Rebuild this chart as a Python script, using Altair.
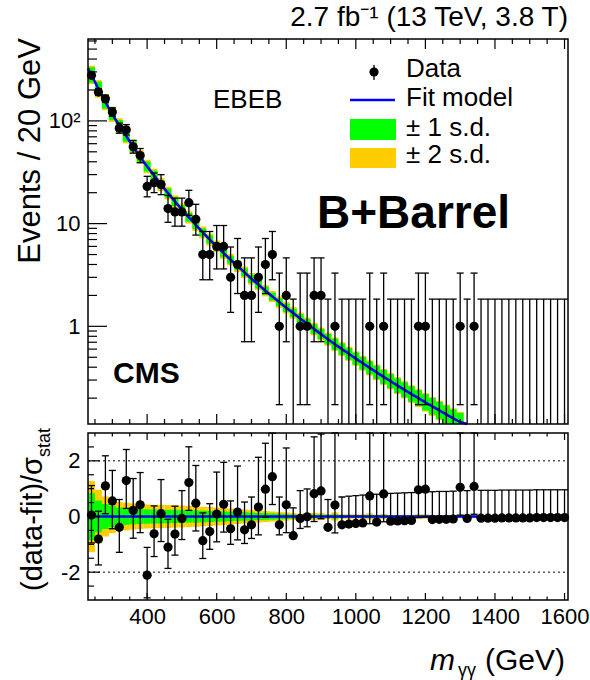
import math
import pandas as pd
import altair as alt

FONT = "Liberation Sans"

# ---------------- data ----------------
bin_centers = list(range(240, 1601, 20))  # 69 bins of 20 GeV
counts = [278, 191, 164, 122, 85, 82, 56, 46,
          23, 25, 24, 14, 13, 13, 16, 11,
          5, 5, 6, 6, 3, 4, 2, 2,
          3, 4, 5, 1, 2, 0, 1, 1,
          2, 2, 0, 1, 0, 0, 0, 0,
          1, 0, 1, 0, 0, 0, 0, 1,
          1, 0, 0, 0, 0, 1, 0, 1] + [0] * 13
residuals = [0.05, -0.81, 1.10, 0.56, -0.39, 1.29, 0.22, 0.42,
             -2.11, -0.62, 0.10, -1.10, -0.63, -0.07, 1.22, 0.48,
             -0.87, -0.54, 0.09, 0.44, -0.44, 0.16, -0.48, -0.30,
             0.34, 0.98, 1.43, -0.30, 0.42, -0.69, -0.07, -0.01,
             0.82, 0.92, -0.39, 0.41, -0.30, -0.27, -0.25, -0.23,
             0.74, -0.20, 0.81, -0.17, -0.16, -0.15, -0.14, 0.96,
             0.98, -0.11, -0.10, -0.10, -0.09, 1.05, -0.07, 1.08,
             -0.06, -0.06, -0.06, -0.05, -0.05, -0.05, -0.05, -0.05,
             -0.04, -0.04, -0.04, -0.04, -0.04]
fit_mass = [230] + list(range(240, 1321, 20))
fit_events = [325,
              280, 205, 152, 116, 90, 71, 56, 44.5,
              36, 29.5, 24, 19.8, 16.4, 13.7, 11.5, 9.7,
              8.2, 7.0, 6.0, 5.15, 4.45, 3.85, 3.35, 2.9,
              2.55, 2.22, 1.95, 1.72, 1.52, 1.35, 1.19, 1.06,
              0.94, 0.84, 0.75, 0.67, 0.60, 0.54, 0.485, 0.437,
              0.394, 0.356, 0.322, 0.292, 0.265, 0.241, 0.219, 0.2,
              0.182, 0.166, 0.152, 0.139, 0.127, 0.117, 0.107]
band_mass = list(range(240, 1301, 20))
# half heights of the band boxes in the upper panel (decades)
top_sd1 = [0.075, 0.070, 0.062, 0.058, 0.055, 0.053, 0.052, 0.050,
           0.048, 0.046, 0.045, 0.044, 0.043, 0.042, 0.042, 0.041,
           0.040, 0.040, 0.039, 0.039, 0.038, 0.038, 0.038, 0.038,
           0.038, 0.038, 0.038, 0.039, 0.040, 0.041, 0.043, 0.045,
           0.047, 0.049, 0.051, 0.053, 0.055, 0.057, 0.059, 0.061,
           0.063, 0.065, 0.067, 0.069, 0.071, 0.073, 0.075, 0.077,
           0.079, 0.081, 0.083, 0.085, 0.087, 0.089]
top_sd2 = [0.090, 0.085, 0.078, 0.075, 0.072, 0.070, 0.069, 0.068,
           0.066, 0.064, 0.063, 0.062, 0.061, 0.060, 0.060, 0.059,
           0.058, 0.058, 0.057, 0.057, 0.056, 0.056, 0.056, 0.056,
           0.055, 0.055, 0.055, 0.056, 0.056, 0.057, 0.058, 0.060,
           0.061, 0.063, 0.064, 0.066, 0.067, 0.069, 0.070, 0.072,
           0.074, 0.076, 0.078, 0.080, 0.082, 0.084, 0.086, 0.088,
           0.090, 0.092, 0.094, 0.096, 0.098, 0.100]
# band half widths in the ratio panel
res_sd1 = [0.84, 0.57, 0.45, 0.38, 0.32, 0.30, 0.28, 0.27,
           0.26, 0.25, 0.25, 0.24, 0.24, 0.23, 0.22, 0.22,
           0.21, 0.20, 0.19, 0.18, 0.17, 0.16, 0.15, 0.14,
           0.13, 0.12, 0.11, 0.10, 0.09, 0.07, 0.06, 0.06,
           0.07, 0.07, 0.05, 0.08, 0.05, 0.05, 0.05, 0.05,
           0.06, 0.04, 0.05, 0.04, 0.04, 0.04, 0.04, 0.05,
           0.05, 0.03, 0.03, 0.03, 0.03, 0.04, 0.02, 0.04] + [0.015] * 13
res_sd2 = [1.28, 0.96, 0.72, 0.60, 0.52, 0.50, 0.47, 0.45,
           0.43, 0.42, 0.42, 0.41, 0.40, 0.39, 0.38, 0.37,
           0.35, 0.34, 0.32, 0.31, 0.29, 0.27, 0.25, 0.23,
           0.22, 0.20, 0.18, 0.16, 0.15, 0.12, 0.10, 0.10,
           0.13, 0.12, 0.09, 0.15, 0.08, 0.08, 0.08, 0.08,
           0.11, 0.07, 0.09, 0.06, 0.06, 0.06, 0.06, 0.08,
           0.08, 0.05, 0.05, 0.05, 0.05, 0.06, 0.03, 0.06] + [0.025] * 13

x_tick_labels = [400, 600, 800, 1000, 1200, 1400, 1600]
x_minor_ticks = list(range(250, 1601, 50))
y_top_labels = [1, 10, 100]
y_top_minor = [0.2, 0.3, 0.4, 0.5, 0.6, 0.7, 0.8, 0.9,
               2, 3, 4, 5, 6, 7, 8, 9,
               20, 30, 40, 50, 60, 70, 80, 90,
               200, 300, 400, 500, 600]
y_bot_labels = [-2, 0, 2]
y_bot_minor = [-2.5, -1.5, -1, -0.5, 0.5, 1, 1.5, 2.5]
dotted_levels = [-2, 2]

X_DOM = [230, 1610]
Y_TOP_DOM = [0.112, 627]
Y_BOT_DOM = [-3, 3]

# ---------------- geometry ----------------
W, H = 480, 561
TOP_RANGE = [385, 0]
BOT_RANGE = [561, 394]

GREEN = "#00ff00"
YELLOW = "#ffcc00"
BLUE = "#0000ff"


def poisson_cdf(n, mu):
    if mu <= 0:
        return 1.0
    lm = math.log(mu)
    return sum(math.exp(-mu + k * lm - math.lgamma(k + 1)) for k in range(n + 1))


def bisect(f, target, a, b):
    for _ in range(80):
        m = 0.5 * (a + b)
        if f(m) > target:
            a = m
        else:
            b = m
    return 0.5 * (a + b)


ALPHA = 0.158655


def garwood(n):
    hi = bisect(lambda m: poisson_cdf(n, m), ALPHA, 0.0, n + 10 * math.sqrt(n + 1) + 10)
    lo = 0.0 if n == 0 else bisect(lambda m: poisson_cdf(n - 1, m), 1 - ALPHA, 0.0, n + 5)
    return lo, hi


xs = alt.Scale(domain=X_DOM, range=[0, W], nice=False, zero=False)
yts = alt.Scale(type="log", domain=Y_TOP_DOM, range=TOP_RANGE, nice=False, clamp=True)
ybs = alt.Scale(domain=Y_BOT_DOM, range=BOT_RANGE, nice=False, zero=False, clamp=True)

X_AXIS = alt.Axis(values=x_tick_labels, ticks=False, tickSize=0, domain=False, grid=False,
                  labelFont=FONT, labelFontSize=22, labelColor="black", format="d",
                  labelFlush=False, labelOverlap=False,
                  labelPadding=6, title=None, orient="bottom")


def X(f):
    return alt.X(f, type="quantitative", scale=xs, axis=X_AXIS)


def X2(f):
    return alt.X2(f)


def YT(f):
    return alt.Y(f, type="quantitative", scale=yts, axis=None)


def YB(f):
    return alt.Y(f, type="quantitative", scale=ybs, axis=None)


# ---------------- tables ----------------
top_err, top_caps, top_pts = [], [], []
res_err, res_caps, res_pts = [], [], []
for c, n, r in zip(bin_centers, counts, residuals):
    lo, hi = garwood(n)
    top_err.append({"m": c, "lo": max(lo, 1e-3), "hi": hi})
    top_caps.append({"m": c, "v": hi})
    if n > 0:
        top_caps.append({"m": c, "v": lo})
        top_pts.append({"m": c, "n": n})
    if n == 0:
        up, dn = 1.0, 0.0
    elif r >= 0:
        sig = n - lo
        up, dn = (hi - n) / sig, 1.0
    else:
        sig = hi - n
        up, dn = 1.0, (n - lo) / sig
    res_err.append({"m": c, "lo": r - dn, "hi": r + up})
    res_caps.append({"m": c, "v": r + up})
    if dn > 0:
        res_caps.append({"m": c, "v": r - dn})
    res_pts.append({"m": c, "r": r})

top_band = []
for i, c in enumerate(band_mass):
    f = fit_events[fit_mass.index(c)]
    top_band.append({"x0": c - 10, "x1": c + 10,
                     "l1": f * 10 ** (-top_sd1[i]), "h1": f * 10 ** top_sd1[i],
                     "l2": f * 10 ** (-top_sd2[i]), "h2": f * 10 ** top_sd2[i]})
res_band = [{"x0": c - 10, "x1": c + 10, "l1": -a, "h1": a, "l2": -b, "h2": b}
            for c, a, b in zip(bin_centers, res_sd1, res_sd2)]

df_top_err = pd.DataFrame(top_err)
df_top_caps = pd.DataFrame(top_caps)
df_top_pts = pd.DataFrame(top_pts)
df_res_err = pd.DataFrame(res_err)
df_res_caps = pd.DataFrame(res_caps)
df_res_pts = pd.DataFrame(res_pts)
df_top_band = pd.DataFrame(top_band)
df_res_band = pd.DataFrame(res_band)
df_fit = pd.DataFrame({"m": fit_mass, "f": fit_events})
df_frame_top = pd.DataFrame([{"x0": X_DOM[0], "x1": X_DOM[1], "y0": Y_TOP_DOM[0], "y1": Y_TOP_DOM[1]}])
df_frame_bot = pd.DataFrame([{"x0": X_DOM[0], "x1": X_DOM[1], "y0": Y_BOT_DOM[0], "y1": Y_BOT_DOM[1]}])
df_zero = pd.DataFrame([{"x0": X_DOM[0], "x1": X_DOM[1], "y": 0}])
df_dot = pd.DataFrame({"y": dotted_levels, "x0": X_DOM[0], "x1": X_DOM[1]})
df_xmaj = pd.DataFrame({"t": [t for t in x_minor_ticks if t % 200 == 0]})
df_xmin = pd.DataFrame({"t": [t for t in x_minor_ticks if t % 200 != 0]})
df_ytmaj = pd.DataFrame({"t": y_top_labels})
df_ytmin = pd.DataFrame({"t": y_top_minor})
df_ybmaj = pd.DataFrame({"t": y_bot_labels})
df_ybmin = pd.DataFrame({"t": y_bot_minor})
one = pd.DataFrame([{"k": 0}])

layers = []

# ---------- upper panel ----------
layers.append(alt.Chart(df_top_band).mark_rect(color=YELLOW).encode(
    x=X("x0"), x2=X2("x1"), y=YT("l2"), y2=alt.Y2("h2")))
layers.append(alt.Chart(df_top_band).mark_rect(color=GREEN).encode(
    x=X("x0"), x2=X2("x1"), y=YT("l1"), y2=alt.Y2("h1")))
layers.append(alt.Chart(df_fit).mark_line(color=BLUE, strokeWidth=2.5).encode(
    x=X("m"), y=YT("f")))
layers.append(alt.Chart(df_top_err).mark_rule(color="black", strokeWidth=1.3).encode(
    x=X("m"), y=YT("lo"), y2=alt.Y2("hi")))
layers.append(alt.Chart(df_top_caps).mark_tick(color="black", orient="horizontal", size=7,
                                               thickness=1.3, opacity=1).encode(
    x=X("m"), y=YT("v")))
layers.append(alt.Chart(df_top_pts).mark_circle(color="black", size=85, opacity=1).encode(
    x=X("m"),
    y=alt.Y("n", type="quantitative", scale=yts,
            axis=alt.Axis(orient="left", values=y_top_labels, ticks=False, tickSize=0,
                          domain=False, grid=False, labelFont=FONT, labelFontSize=22,
                          labelColor="black", labelPadding=8, title=None,
                          labelExpr="datum.value == 100 ? '10²' : (datum.value == 10 ? '10' : '1')"))))
layers.append(alt.Chart(df_frame_top).mark_rect(filled=False, stroke="black", strokeWidth=1.5).encode(
    x=X("x0"), x2=X2("x1"), y=YT("y0"), y2=alt.Y2("y1")))

# ---------- ratio panel ----------
layers.append(alt.Chart(df_res_band).mark_rect(color=YELLOW).encode(
    x=X("x0"), x2=X2("x1"), y=YB("l2"), y2=alt.Y2("h2")))
layers.append(alt.Chart(df_res_band).mark_rect(color=GREEN).encode(
    x=X("x0"), x2=X2("x1"), y=YB("l1"), y2=alt.Y2("h1")))
layers.append(alt.Chart(df_zero).mark_rule(color=BLUE, strokeWidth=2.5).encode(
    x=X("x0"), x2=X2("x1"), y=YB("y")))
layers.append(alt.Chart(df_dot).mark_rule(color="black", strokeWidth=1, strokeDash=[2, 3]).encode(
    x=X("x0"), x2=X2("x1"), y=YB("y")))
layers.append(alt.Chart(df_res_err).mark_rule(color="black", strokeWidth=1.3).encode(
    x=X("m"), y=YB("lo"), y2=alt.Y2("hi")))
layers.append(alt.Chart(df_res_caps).mark_tick(color="black", orient="horizontal", size=7,
                                               thickness=1.3, opacity=1).encode(
    x=X("m"), y=YB("v")))
layers.append(alt.Chart(df_res_pts).mark_circle(color="black", size=85, opacity=1).encode(
    x=X("m"),
    y=alt.Y("r", type="quantitative", scale=ybs,
            axis=alt.Axis(orient="left", values=y_bot_labels, ticks=False, tickSize=0,
                          domain=False, grid=False, labelFont=FONT, labelFontSize=22,
                          labelColor="black", labelPadding=8, title=None,
                          labelExpr="datum.value == -2 ? '-2' : (datum.value == 2 ? '2' : '0')"))))
layers.append(alt.Chart(df_frame_bot).mark_rect(filled=False, stroke="black", strokeWidth=1.5).encode(
    x=X("x0"), x2=X2("x1"), y=YB("y0"), y2=alt.Y2("y1")))

# ---------- inward ticks ----------
tick_style = dict(color="black", strokeWidth=1.2)
for df_t, L in ((df_xmaj, 10), (df_xmin, 5)):
    layers.append(alt.Chart(df_t).mark_rule(**tick_style).encode(
        x=X("t"), y=alt.value(0), y2=alt.value(L)))
    layers.append(alt.Chart(df_t).mark_rule(**tick_style).encode(
        x=X("t"), y=alt.value(385), y2=alt.value(385 - L)))
for df_t, L in ((df_xmaj, 7), (df_xmin, 3.5)):
    layers.append(alt.Chart(df_t).mark_rule(**tick_style).encode(
        x=X("t"), y=alt.value(394), y2=alt.value(394 + L)))
    layers.append(alt.Chart(df_t).mark_rule(**tick_style).encode(
        x=X("t"), y=alt.value(561), y2=alt.value(561 - L)))
for df_t, L in ((df_ytmaj, 19), (df_ytmin, 9)):
    layers.append(alt.Chart(df_t).mark_rule(**tick_style).encode(
        y=YT("t"), x=alt.value(0), x2=alt.value(L)))
for df_t, L in ((df_ybmaj, 12), (df_ybmin, 6)):
    layers.append(alt.Chart(df_t).mark_rule(**tick_style).encode(
        y=YB("t"), x=alt.value(0), x2=alt.value(L)))


# ---------- texts ----------
def txt(s, x, y, size, align="left", weight="normal", style="normal", angle=0):
    props = dict(text=s, font=FONT, fontSize=size, align=align, baseline="alphabetic",
                 fontWeight=weight, fontStyle=style, color="black")
    if angle:
        props["angle"] = angle
    return alt.Chart(one).mark_text(**props).encode(x=alt.value(x), y=alt.value(y))


layers += [
    txt("2.7 fb⁻¹ (13 TeV, 3.8 T)", 480, -13, 28, align="right"),
    txt("Events / 20 GeV", -48, -1, 31, align="right", angle=270),
    txt("(data-fit)/σ", -46, 418, 29, align="right", angle=270),
    txt("stat", -38, 418, 18, align="left", angle=270),
    txt("m", 342, 631, 30, style="italic"),
    txt("γγ", 370, 637, 18),
    txt("(GeV)", 477, 631, 30, align="right"),
    txt("EBEB", 125, 69, 26),
    txt("B+Barrel", 229, 189, 46, weight="bold"),
    txt("CMS", 25, 344, 30, weight="bold"),
    txt("Data", 318, 38, 26),
    txt("Fit model", 318, 67, 26),
    txt("± 1 s.d.", 318, 97, 26),
    txt("± 2 s.d.", 318, 124, 26),
]

# legend symbols
layers.append(alt.Chart(one).mark_rule(color="black", strokeWidth=1.3).encode(
    x=alt.value(286), y=alt.value(26), y2=alt.value(41)))
layers.append(alt.Chart(one).mark_circle(color="black", size=85, opacity=1).encode(
    x=alt.value(286), y=alt.value(33)))
layers.append(alt.Chart(one).mark_rule(color=BLUE, strokeWidth=2.5).encode(
    x=alt.value(262), x2=alt.value(307), y=alt.value(61)))
layers.append(alt.Chart(one).mark_rect(color=GREEN).encode(
    x=alt.value(262), x2=alt.value(308), y=alt.value(80), y2=alt.value(101)))
layers.append(alt.Chart(one).mark_rect(color=YELLOW).encode(
    x=alt.value(262), x2=alt.value(308), y=alt.value(109), y2=alt.value(129)))

chart = alt.layer(*layers).resolve_scale(y="independent").properties(
    width=W, height=H,
    padding={"left": 88, "top": 39, "right": 22, "bottom": 80},
    autosize=alt.AutoSizeParams(type="none"),
).configure_view(strokeOpacity=0)

chart.save("out.html", embed_options={"renderer": "svg", "actions": False})
